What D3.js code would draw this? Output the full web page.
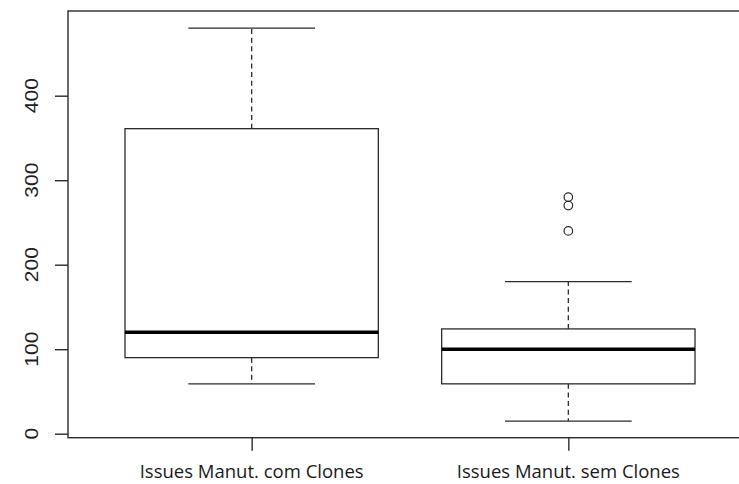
<!DOCTYPE html>
<html>
<head>
<meta charset="utf-8">
<script src="https://cdn.jsdelivr.net/npm/d3@7"></script>
<style>
  html, body { margin: 0; padding: 0; background: #fff; }
  svg { display: block; }
</style>
</head>
<body>
<svg id="chart" width="739" height="484"></svg>
<script>
// Group labels
const categories = ["Issues Manut. com Clones", "Issues Manut. sem Clones"];
// Five-number summaries per group: lower whisker, Q1, median, Q3, upper whisker
const lowerWhisker = [59, 15];
const q1 = [90, 59];
const median = [120, 100];
const q3 = [361, 124];
const upperWhisker = [480, 180];
// Points beyond the whiskers, per group
const outliers = [[], [280, 270, 240]];
// Y axis ticks
const yTicks = [0, 100, 200, 300, 400];

const svg = d3.select("#chart");
const ink = "#2b2b2b";

// Plot region (the right edge of the frame runs past the canvas)
const plot = { left: 68, top: 11, right: 752, bottom: 437.7 };

// Group positions 1..n on a continuous scale padded like R's boxplot
const x = d3.scaleLinear().domain([0.42, 2.58]).range([plot.left, plot.right]);
const y = d3.scaleLinear().domain([0, 400]).range([433.7, 95.7]);

const boxHalf = 0.4, capHalf = 0.2;

const groups = categories.map((c, i) => ({
  name: c, pos: i + 1,
  lo: lowerWhisker[i], q1: q1[i], med: median[i], q3: q3[i], hi: upperWhisker[i],
  out: outliers[i]
}));

const g = svg.append("g");

groups.forEach(d => {
  const cx = x(d.pos);
  // dashed whiskers
  g.append("line").attr("x1", cx).attr("x2", cx).attr("y1", y(d.q3)).attr("y2", y(d.hi))
    .attr("stroke", ink).attr("stroke-width", 1.3).attr("stroke-dasharray", "5,3.6");
  g.append("line").attr("x1", cx).attr("x2", cx).attr("y1", y(d.q1)).attr("y2", y(d.lo))
    .attr("stroke", ink).attr("stroke-width", 1.3).attr("stroke-dasharray", "5,3.6");
  // whisker caps
  [d.lo, d.hi].forEach(v => {
    g.append("line").attr("x1", x(d.pos - capHalf)).attr("x2", x(d.pos + capHalf))
      .attr("y1", y(v)).attr("y2", y(v)).attr("stroke", ink).attr("stroke-width", 1.3);
  });
  // box
  g.append("rect").attr("x", x(d.pos - boxHalf)).attr("y", y(d.q3))
    .attr("width", x(d.pos + boxHalf) - x(d.pos - boxHalf)).attr("height", y(d.q1) - y(d.q3))
    .attr("fill", "none").attr("stroke", ink).attr("stroke-width", 1.3);
  // median
  g.append("line").attr("x1", x(d.pos - boxHalf)).attr("x2", x(d.pos + boxHalf))
    .attr("y1", y(d.med)).attr("y2", y(d.med)).attr("stroke", "#000").attr("stroke-width", 3.6);
  // outliers
  g.selectAll(null).data(d.out).enter().append("circle")
    .attr("cx", cx).attr("cy", v => y(v)).attr("r", 4.3)
    .attr("fill", "none").attr("stroke", ink).attr("stroke-width", 1.2);
});

// Frame
svg.append("rect").attr("x", plot.left).attr("y", plot.top)
  .attr("width", plot.right - plot.left).attr("height", plot.bottom - plot.top)
  .attr("fill", "none").attr("stroke", ink).attr("stroke-width", 1.4);

// Y axis ticks
const yAxis = svg.append("g").attr("transform", `translate(${plot.left},0)`)
  .call(d3.axisLeft(y).tickValues(yTicks).tickSize(13).tickFormat(""));
yAxis.select(".domain").remove();
yAxis.selectAll(".tick line").attr("stroke", ink).attr("stroke-width", 1.4);

// Y tick labels, rotated as in base R graphics
svg.append("g").selectAll("text").data(yTicks).enter().append("text")
  .attr("transform", v => `translate(38,${y(v)}) rotate(-90) scale(1.2,1)`)
  .attr("text-anchor", "middle")
  .attr("font-family", "Liberation Sans, Arial, sans-serif")
  .attr("font-size", 17.5)
  .attr("fill", "#1e1e1e")
  .text(v => v);

// X axis ticks and labels
const xAxis = svg.append("g").attr("transform", `translate(0,${plot.bottom})`)
  .call(d3.axisBottom(x).tickValues(groups.map(d => d.pos)).tickSize(13).tickFormat(""));
xAxis.select(".domain").remove();
xAxis.selectAll(".tick line").attr("stroke", ink).attr("stroke-width", 1.4);

svg.append("g").selectAll("text").data(groups).enter().append("text")
  .attr("x", d => x(d.pos)).attr("y", 478)
  .attr("text-anchor", "middle")
  .attr("font-family", "Open Sans, Noto Sans, sans-serif")
  .attr("font-size", 18.5)
  .attr("fill", "#1a1a1a")
  .text(d => d.name);
</script>
</body>
</html>
